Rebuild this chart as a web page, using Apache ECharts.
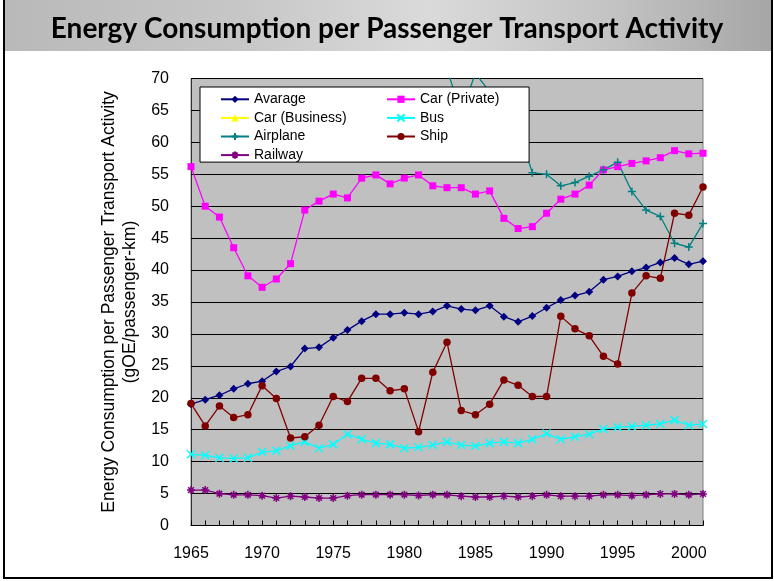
<!DOCTYPE html>
<html>
<head>
<meta charset="utf-8">
<script src="https://cdn.jsdelivr.net/npm/echarts@6/dist/echarts.min.js"></script>
<style>
  html, body { margin: 0; padding: 0; background: #fff; }
  #chart { width: 774px; height: 581px; }
</style>
</head>
<body>
<div id="chart"></div>
<script>
// data (gOE / passenger-km)
const years = [];
for (let y = 1965; y <= 2001; y++) years.push(String(y));

const average = [19.0, 19.7, 20.4, 21.4, 22.2, 22.6, 24.1, 24.9, 27.7, 27.9,
  29.4, 30.6, 32.0, 33.1, 33.1, 33.3, 33.1, 33.5, 34.4, 33.9,
  33.7, 34.4, 32.7, 31.9, 32.8, 34.1, 35.3, 36.0, 36.6, 38.5,
  39.0, 39.8, 40.4, 41.2, 41.9, 40.9, 41.4];

const carPrivate = [56.2, 50.0, 48.3, 43.5, 39.1, 37.3, 38.6, 41.0, 49.4, 50.8,
  51.9, 51.3, 54.4, 54.9, 53.5, 54.4, 54.9, 53.2, 52.9, 52.9,
  51.9, 52.4, 48.1, 46.5, 46.8, 48.9, 51.1, 51.9, 53.3, 55.7,
  56.2, 56.7, 57.1, 57.6, 58.7, 58.2, 58.3];

// not visible anywhere in the plot
const carBusiness = years.map(() => null);

const bus = [11.15, 11.0, 10.6, 10.5, 10.6, 11.5, 11.7, 12.5, 13.1, 12.1,
  12.7, 14.3, 13.5, 12.9, 12.7, 12.1, 12.25, 12.6, 13.1, 12.6,
  12.45, 12.9, 13.1, 12.9, 13.5, 14.4, 13.5, 13.9, 14.3, 15.1,
  15.4, 15.5, 15.7, 15.9, 16.5, 15.7, 15.9];

// earlier years are off the top of the chart
const airplane = [null, null, null, null, null, null, null, null, null, null,
  null, null, null, null, null, null, null, null, 71.4, 64.7,
  70.8, 67.9, 64.5, 62.2, 55.25, 55.0, 53.2, 53.7, 54.7, 55.7,
  56.9, 52.3, 49.4, 48.4, 44.2, 43.6, 47.3];

const ship = [19.1, 15.6, 18.7, 16.9, 17.35, 21.9, 19.9, 13.7, 13.9, 15.7,
  20.2, 19.4, 23.05, 23.05, 21.1, 21.4, 14.7, 24.0, 28.7, 18.0,
  17.35, 19.0, 22.8, 21.95, 20.2, 20.2, 32.75, 30.8, 29.7, 26.5,
  25.3, 36.4, 39.1, 38.7, 48.9, 48.6, 53.0];

const railway = [5.55, 5.55, 4.98, 4.8, 4.8, 4.67, 4.3, 4.6, 4.46, 4.3,
  4.3, 4.67, 4.83, 4.83, 4.83, 4.83, 4.7, 4.83, 4.8, 4.6,
  4.46, 4.46, 4.6, 4.46, 4.6, 4.8, 4.6, 4.6, 4.6, 4.8,
  4.8, 4.67, 4.8, 4.95, 4.95, 4.8, 4.95];

const chartTitle = 'Energy Consumption per Passenger Transport Activity';
const yName = 'Energy Consumption per Passenger Transport Activity\n(gOE/passenger-km)';

// marker shapes
const xMark = 'path://M0,0L10,10M10,0L0,10';
const plusMark = 'path://M5,0L5,10M0,5L10,5';
const starMark = 'path://M5,0L5,10M0,5L10,5M1.5,1.5L8.5,8.5M8.5,1.5L1.5,8.5';

const chart = echarts.init(document.getElementById('chart'), null, { renderer: 'canvas' });

function lineSeries(name, data, color, symbol, size, stroked) {
  return {
    name: name,
    type: 'line',
    data: data,
    symbol: symbol,
    symbolSize: size,
    showSymbol: true,
    connectNulls: false,
    lineStyle: { color: color, width: 1.3 },
    itemStyle: stroked
      ? { color: 'rgba(0,0,0,0)', borderColor: color, borderWidth: 1.5 }
      : { color: color, borderWidth: 0 },
    emphasis: { disabled: true },
    animation: false
  };
}

const legendText = { fontFamily: 'Liberation Sans, Arial, sans-serif', fontSize: 14, color: '#000', lineHeight: 14 };

const option = {
  animation: false,
  title: {
    text: chartTitle,
    left: 'center',
    top: 10,
    textStyle: {
      fontFamily: 'Lato, sans-serif',
      fontWeight: 'bold',
      fontSize: 28,
      color: '#000'
    }
  },
  graphic: [
    {
      type: 'rect',
      z: -10,
      shape: { x: 4, y: 0, width: 768, height: 51 },
      style: {
        fill: new echarts.graphic.LinearGradient(0, 0, 1, 0, [
          { offset: 0, color: '#b9b9b9' },
          { offset: 0.3, color: '#c6c6c6' },
          { offset: 0.55, color: '#dadada' },
          { offset: 0.8, color: '#c2c2c2' },
          { offset: 1, color: '#a6a6a6' }
        ])
      }
    },
    {
      type: 'rect',
      z: -9,
      shape: { x: 4, y: -2, width: 768, height: 580 },
      style: { fill: 'none', stroke: '#000', lineWidth: 2 }
    }
  ],
  legend: [
    {
      // this one also carries the white box of the whole legend
      orient: 'vertical',
      left: 200,
      top: 87,
      padding: [5.3, 182.5, 0, 20],
      backgroundColor: '#fff',
      borderColor: '#000',
      borderWidth: 1,
      itemWidth: 28,
      itemHeight: 9,
      itemGap: 4.6,
      textStyle: legendText,
      data: ['Avarage', 'Car (Business)', 'Airplane', 'Railway']
    },
    {
      orient: 'vertical',
      left: 386,
      top: 92.3,
      z: 5,
      padding: 0,
      itemWidth: 28,
      itemHeight: 9,
      itemGap: 4.6,
      textStyle: legendText,
      data: ['Car (Private)', 'Bus', 'Ship']
    }
  ],
  grid: {
    left: 191,
    right: 71,
    top: 78.5,
    bottom: 55.5,
    show: true,
    backgroundColor: '#c0c0c0',
    borderColor: '#808080',
    borderWidth: 1
  },
  xAxis: {
    type: 'category',
    data: years,
    boundaryGap: false,
    axisLine: { lineStyle: { color: '#000', width: 1 } },
    axisTick: { inside: true, length: 5, interval: 0, lineStyle: { color: '#000' } },
    axisLabel: {
      interval: 4,
      margin: 20,
      color: '#000',
      fontFamily: 'Liberation Sans, Arial, sans-serif',
      fontSize: 16
    },
    splitLine: { show: false }
  },
  yAxis: {
    type: 'value',
    min: 0,
    max: 70,
    interval: 5,
    name: yName,
    nameLocation: 'middle',
    nameRotate: 90,
    nameGap: 48,
    nameTextStyle: {
      color: '#000',
      fontFamily: 'Liberation Sans, Arial, sans-serif',
      fontSize: 17.5,
      lineHeight: 21
    },
    axisLine: { show: true, lineStyle: { color: '#333', width: 1 } },
    axisTick: { show: true, inside: true, length: 4, lineStyle: { color: '#000' } },
    axisLabel: {
      margin: 22,
      color: '#000',
      fontFamily: 'Liberation Sans, Arial, sans-serif',
      fontSize: 16
    },
    splitLine: { show: true, lineStyle: { color: '#000', width: 1 } }
  },
  series: [
    lineSeries('Avarage', average, '#000080', 'diamond', 8, false),
    lineSeries('Car (Private)', carPrivate, '#ff00ff', 'rect', 7, false),
    lineSeries('Car (Business)', carBusiness, '#ffff00', 'triangle', 8, false),
    lineSeries('Bus', bus, '#00ffff', xMark, 8, true),
    lineSeries('Airplane', airplane, '#008080', plusMark, 8, true),
    lineSeries('Ship', ship, '#800000', 'circle', 7.5, false),
    lineSeries('Railway', railway, '#800080', starMark, 8, true)
  ]
};

chart.setOption(option);
window.addEventListener('resize', () => chart.resize());
</script>
</body>
</html>
